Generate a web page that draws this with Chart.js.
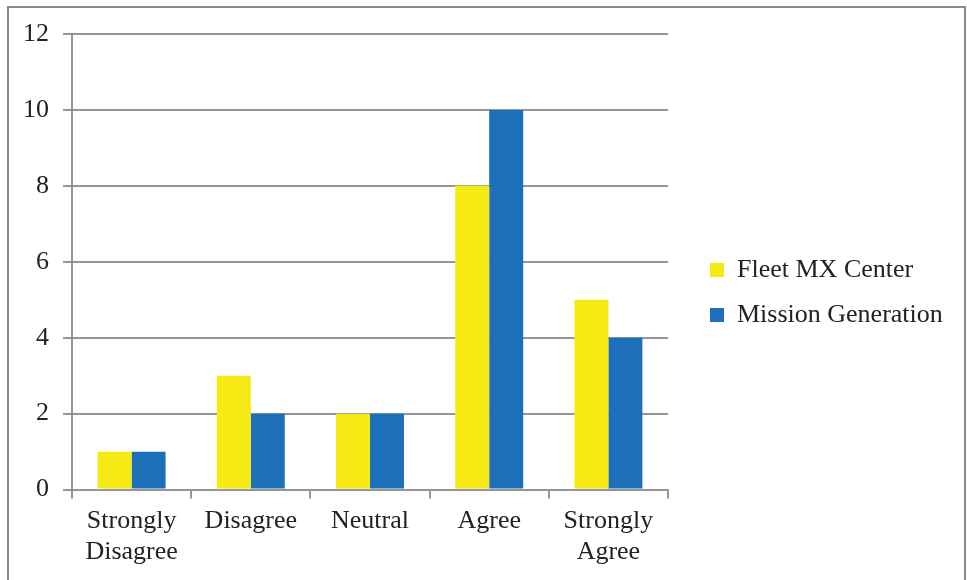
<!DOCTYPE html>
<html>
<head>
<meta charset="utf-8">
<script src="https://cdn.jsdelivr.net/npm/chart.js@4/dist/chart.umd.min.js"></script>
<style>
  html, body { margin: 0; padding: 0; background: #fff; }
  #frame {
    position: absolute; left: 7px; top: 6px; width: 959px; height: 580px;
    border: 2px solid #8a8a8a; box-sizing: border-box; background: #fff;
  }
  #wrap { position: absolute; left: 0; top: 0; width: 967px; height: 580px; }
</style>
</head>
<body>
<div id="frame"></div>
<div id="wrap"><canvas id="c" width="967" height="580"></canvas></div>
<script>
// Survey responses by group
const categories = [["Strongly", "Disagree"], "Disagree", "Neutral", "Agree", ["Strongly", "Agree"]];
const fleetMxCenter = [1, 3, 2, 8, 5];
const missionGeneration = [1, 2, 2, 10, 4];
const seriesNames = ["Fleet MX Center", "Mission Generation"];
const yTicks = [0, 2, 4, 6, 8, 10, 12];

const serif = "'Liberation Serif', 'DejaVu Serif', serif";
const gridGray = "#969696";
const textColor = "#222";
const legendBoxWidth = 299; // width reserved for the legend column on the right
const legendGap = 23;       // extra space between the plot and the legend items
const legendRaise = 12;     // lift the legend a little above the box centre

// Give the legend a fixed-width column and nudge its items
const legendGapPlugin = {
  id: "legendGap",
  afterInit(chart) {
    const legend = chart.legend;
    if (!legend) return;
    const fit = legend.fit.bind(legend);
    legend.fit = function () { fit(); this.width = legendBoxWidth; };
    const draw = legend.draw.bind(legend);
    legend.draw = function () {
      const ctx = this.ctx;
      ctx.save();
      ctx.translate(legendGap, -legendRaise);
      draw();
      ctx.restore();
    };
  }
};

new Chart(document.getElementById("c"), {
  type: "bar",
  data: {
    labels: categories,
    datasets: [
      { label: seriesNames[0], data: fleetMxCenter, backgroundColor: "#f5ea14" },
      { label: seriesNames[1], data: missionGeneration, backgroundColor: "#1c6fb8" }
    ]
  },
  plugins: [legendGapPlugin],
  options: {
    responsive: false,
    animation: false,
    layout: { padding: { left: 23, top: 34, right: 0, bottom: 5 } },
    plugins: {
      tooltip: { enabled: false },
      legend: {
        position: "right",
        labels: {
          font: { family: serif, size: 26 },
          color: textColor,
          boxWidth: 14,
          boxHeight: 14,
          padding: 19
        }
      }
    },
    datasets: { bar: { categoryPercentage: 0.57, barPercentage: 1.0 } },
    scales: {
      x: {
        offset: true,
        grid: {
          offset: true,
          drawOnChartArea: false,
          drawTicks: true,
          tickLength: 9,
          color: gridGray,
          lineWidth: 2
        },
        border: { color: gridGray, width: 2 },
        ticks: {
          font: { family: serif, size: 26, lineHeight: 1.2 },
          color: textColor,
          padding: 7,
          maxRotation: 0
        }
      },
      y: {
        min: 0,
        max: 12,
        afterBuildTicks: (axis) => { axis.ticks = yTicks.map(v => ({ value: v })); },
        afterFit: (axis) => { axis.width = 49; },
        grid: {
          color: gridGray,
          lineWidth: 2,
          tickLength: 9
        },
        border: { color: gridGray, width: 2 },
        ticks: {
          font: { family: serif, size: 26 },
          color: textColor,
          padding: 14
        }
      }
    }
  }
});
</script>
</body>
</html>
